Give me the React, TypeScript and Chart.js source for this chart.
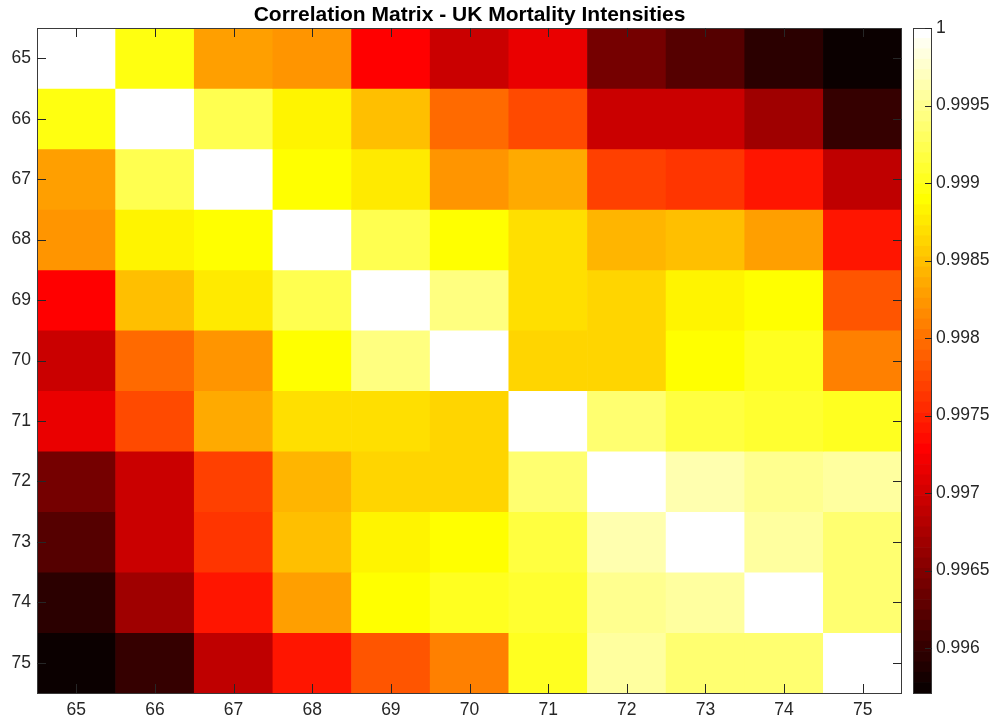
import React, { useEffect, useRef } from 'react';
import { Chart, registerables } from 'chart.js';

Chart.register(...registerables);

// ---------- data ----------
const ages = ['65', '66', '67', '68', '69', '70', '71', '72', '73', '74', '75'];

const row65 = [1, 0.99896, 0.99829, 0.99823, 0.99729, 0.99695, 0.99715, 0.99642, 0.99622, 0.99595, 0.99571];
const row66 = [0.99896, 1, 0.99923, 0.99883, 0.99849, 0.99796, 0.99776, 0.99695, 0.99695, 0.99669, 0.99602];
const row67 = [0.99829, 0.99923, 1, 0.9989, 0.99876, 0.99823, 0.99836, 0.99769, 0.99762, 0.99742, 0.99689];
const row68 = [0.99823, 0.99883, 0.9989, 1, 0.99923, 0.9989, 0.99869, 0.99843, 0.99849, 0.99829, 0.99742];
const row69 = [0.99729, 0.99849, 0.99876, 0.99923, 1, 0.99943, 0.99869, 0.99863, 0.99883, 0.9989, 0.99782];
const row70 = [0.99695, 0.99796, 0.99823, 0.9989, 0.99943, 1, 0.99863, 0.99863, 0.9989, 0.99903, 0.99809];
const row71 = [0.99715, 0.99776, 0.99836, 0.99869, 0.99869, 0.99863, 1, 0.99936, 0.99916, 0.9991, 0.99903];
const row72 = [0.99642, 0.99695, 0.99769, 0.99843, 0.99863, 0.99863, 0.99936, 1, 0.99963, 0.9995, 0.99956];
const row73 = [0.99622, 0.99695, 0.99762, 0.99849, 0.99883, 0.9989, 0.99916, 0.99963, 1, 0.99956, 0.99936];
const row74 = [0.99595, 0.99669, 0.99742, 0.99829, 0.9989, 0.99903, 0.9991, 0.9995, 0.99956, 1, 0.99936];
const row75 = [0.99571, 0.99602, 0.99689, 0.99742, 0.99782, 0.99809, 0.99903, 0.99956, 0.99936, 0.99936, 1];

const corrRows = [row65, row66, row67, row68, row69, row70, row71, row72, row73, row74, row75];

const colorbarTicks = [0.996, 0.9965, 0.997, 0.9975, 0.998, 0.9985, 0.999, 0.9995, 1];
const chartTitle = 'Correlation Matrix - UK Mortality Intensities';

// ---------- colormap (MATLAB "hot", 64 levels) ----------
const N_LEVELS = 64;
function hot(i: number): string {
  // i: 1..64
  const n1 = 24, n2 = 24, n3 = 16;
  let r = 1, g = 1, b = 1;
  if (i <= n1) { r = i / n1; g = 0; b = 0; }
  else if (i <= n1 + n2) { r = 1; g = (i - n1) / n2; b = 0; }
  else { r = 1; g = 1; b = (i - n1 - n2) / n3; }
  return `rgb(${Math.round(r * 255)},${Math.round(g * 255)},${Math.round(b * 255)})`;
}
const allVals = corrRows.flat();
const cmin = Math.min(...allVals);
const cmax = Math.max(...allVals);
function colorFor(v: number): string {
  let idx = Math.floor(((v - cmin) / (cmax - cmin)) * N_LEVELS) + 1;
  if (idx < 1) idx = 1;
  if (idx > N_LEVELS) idx = N_LEVELS;
  return hot(idx);
}

const FONT = '"Liberation Sans", Arial, Helvetica, sans-serif';
const INK = '#262626';
const W = 993;
const H = 724;

const heatFrame = {
  id: 'heatFrame',
  afterDraw(chart: any) {
    const { ctx, chartArea: a, scales } = chart;
    const xs = scales.x;
    const ys = scales.y;
    ctx.save();
    // box
    ctx.strokeStyle = '#3a3a3a';
    ctx.lineWidth = 1;
    ctx.strokeRect(Math.round(a.left) + 0.5, Math.round(a.top) + 0.5, Math.round(a.right - a.left) - 1, Math.round(a.bottom - a.top));
    // inward ticks
    const tl = 9;
    ctx.strokeStyle = INK;
    ctx.beginPath();
    ages.forEach((_, i) => {
      const x = Math.round(xs.getPixelForValue(i)) + 0.5;
      ctx.moveTo(x, a.bottom);
      ctx.lineTo(x, a.bottom - tl);
      ctx.moveTo(x, a.top);
      ctx.lineTo(x, a.top + tl);
      const y = Math.round(ys.getPixelForValue(i + 0.5)) + 0.5;
      ctx.moveTo(a.left, y);
      ctx.lineTo(a.left + tl, y);
      ctx.moveTo(a.right, y);
      ctx.lineTo(a.right - tl, y);
    });
    ctx.stroke();
    // title
    ctx.fillStyle = '#000';
    ctx.font = `bold 21px ${FONT}`;
    ctx.textAlign = 'center';
    ctx.textBaseline = 'alphabetic';
    ctx.fillText(chartTitle, (a.left + a.right) / 2, 20.5);
    ctx.restore();
  },
};

const barFrame = {
  id: 'barFrame',
  afterDraw(chart: any) {
    const { ctx, chartArea: a, scales } = chart;
    const ys = scales.y;
    ctx.save();
    ctx.strokeStyle = '#3a3a3a';
    ctx.lineWidth = 1;
    ctx.strokeRect(Math.round(a.left) + 0.5, Math.round(a.top) + 0.5, Math.round(a.right - a.left) - 1, Math.round(a.bottom - a.top));
    ctx.strokeStyle = INK;
    ctx.beginPath();
    colorbarTicks.forEach((v) => {
      const y = Math.round(ys.getPixelForValue(v)) + 0.5;
      ctx.moveTo(a.right, y);
      ctx.lineTo(a.right - 7, y);
    });
    ctx.stroke();
    ctx.restore();
  },
};

export default function App() {
  const mainRef = useRef<HTMLCanvasElement>(null);
  const barRef = useRef<HTMLCanvasElement>(null);

  useEffect(() => {
    const main = new Chart(mainRef.current as HTMLCanvasElement, {
      type: 'bar',
      data: {
        labels: ages,
        datasets: corrRows.map((row, r) => ({
          label: ages[r],
          data: row.map(() => 1),
          backgroundColor: row.map(colorFor),
          borderWidth: 0,
          barPercentage: 1,
          categoryPercentage: 1,
          stack: 'grid',
        })),
      },
      options: {
        animation: false,
        responsive: false,
        events: [],
        layout: { padding: { top: 28, right: W - 902, left: 0, bottom: 0 } },
        plugins: { legend: { display: false }, tooltip: { enabled: false }, title: { display: false } },
        scales: {
          x: {
            stacked: true,
            grid: { display: false, drawTicks: false },
            border: { display: false },
            ticks: { color: INK, font: { size: 17.5, family: FONT }, padding: 7, maxRotation: 0, autoSkip: false },
            afterFit: (s: any) => { s.height = 31; },
          },
          y: {
            stacked: true,
            min: 0,
            max: ages.length,
            reverse: true,
            grid: { display: false, drawTicks: false },
            border: { display: false },
            afterBuildTicks: (s: any) => { s.ticks = ages.map((_, i) => ({ value: i + 0.5 })); },
            ticks: {
              color: INK,
              font: { size: 17.5, family: FONT },
              padding: 6,
              autoSkip: false,
              callback: (_v: any, i: number) => ages[i],
            },
            afterFit: (s: any) => { s.width = 37; },
          },
        },
      } as any,
      plugins: [heatFrame],
    });

    const step = (cmax - cmin) / N_LEVELS;
    const levels = Array.from({ length: N_LEVELS }, (_, k) => k);
    const bar = new Chart(barRef.current as HTMLCanvasElement, {
      type: 'bar',
      data: {
        labels: [''],
        datasets: levels.map((k) => ({
          data: [[cmin + k * step, cmin + (k + 1) * step]] as any,
          backgroundColor: hot(k + 1),
          borderWidth: 0,
          barPercentage: 1,
          categoryPercentage: 1,
          grouped: false,
        })),
      },
      options: {
        animation: false,
        responsive: false,
        events: [],
        layout: { padding: { top: 28, right: 0, left: 13, bottom: 31 } },
        plugins: { legend: { display: false }, tooltip: { enabled: false } },
        scales: {
          x: { display: false },
          y: {
            position: 'right',
            min: cmin,
            max: cmax,
            grid: { display: false, drawTicks: false },
            border: { display: false },
            afterBuildTicks: (s: any) => { s.ticks = colorbarTicks.map((v) => ({ value: v })); },
            ticks: {
              color: INK,
              font: { size: 17.5, family: FONT },
              padding: 4,
              autoSkip: false,
              callback: (v: any) => String(parseFloat(Number(v).toFixed(4))),
            },
            afterFit: (s: any) => { s.width = 61; },
          },
        },
      } as any,
      plugins: [barFrame],
    });

    return () => {
      main.destroy();
      bar.destroy();
    };
  }, []);

  return (
    <div style={{ position: 'absolute', left: 0, top: 0, width: W, height: H, background: '#fff' }}>
      <canvas ref={mainRef} width={W} height={H} style={{ position: 'absolute', left: 0, top: 0, width: W, height: H, display: 'block' }} />
      <canvas ref={barRef} width={93} height={H} style={{ position: 'absolute', left: 900, top: 0, width: 93, height: H, display: 'block' }} />
    </div>
  );
}
